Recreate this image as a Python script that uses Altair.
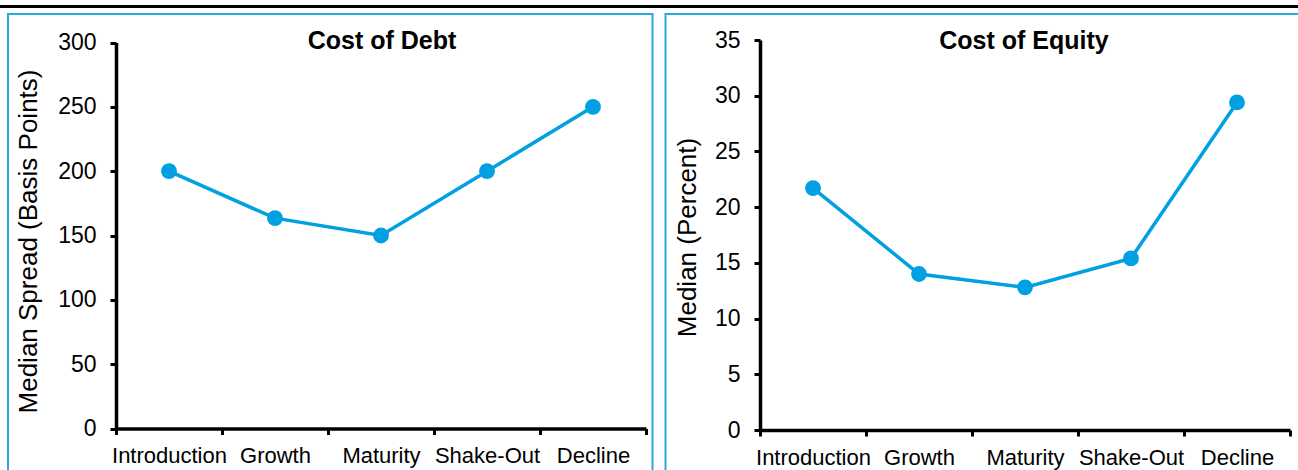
import altair as alt
import pandas as pd

# Life-cycle stages and the two median series
stages = ["Introduction", "Growth", "Maturity", "Shake-Out", "Decline"]
debt_spread_bp = [200, 163.5, 150, 200, 250]
equity_cost_pct = [21.7, 14.0, 12.8, 15.4, 29.4]

debt_ticks = [0, 50, 100, 150, 200, 250, 300]
equity_ticks = [0, 5, 10, 15, 20, 25, 30, 35]

FONT = "Liberation Sans"
BLUE = "#00a0e2"
FRAME = "#29a8e0"
W, H = 1298, 470

debt_df = pd.DataFrame({"stage": stages, "value": debt_spread_bp})
equity_df = pd.DataFrame({"stage": stages, "value": equity_cost_pct})
one = pd.DataFrame({"k": [0]})


def panel(df, x_range, y_range, y_domain, y_ticks, y_title, title_x, title_y, y_offset, x_offset):
    x = alt.X(
        "stage:N",
        sort=stages,
        scale=alt.Scale(range=x_range, paddingInner=0, paddingOuter=0),
        axis=alt.Axis(
            orient="bottom",
            offset=x_offset,
            title=None,
            labelAngle=0,
            labelFont=FONT,
            labelFontSize=22,
            labelColor="black",
            labelPadding=11,
            labelOverlap=False,
            tickBand="extent",
            tickColor="black",
            tickWidth=3,
            tickSize=6,
            domainColor="black",
            domainWidth=3.5,
            grid=False,
        ),
    )
    y = alt.Y(
        "value:Q",
        scale=alt.Scale(domain=y_domain, range=y_range, nice=False, zero=True),
        axis=alt.Axis(
            orient="left",
            offset=y_offset,
            values=y_ticks,
            title=y_title,
            titleFont=FONT,
            titleFontSize=26,
            titleFontWeight="normal",
            titleColor="black",
            titleAngle=270,
            titleAlign="center",
            titleBaseline="bottom",
            titleX=title_x,
            titleY=title_y,
            labelFont=FONT,
            labelFontSize=23,
            labelColor="black",
            labelPadding=14,
            tickColor="black",
            tickWidth=3,
            tickSize=6,
            domainColor="black",
            domainWidth=3.5,
            grid=False,
        ),
    )
    base = alt.Chart(df)
    line = base.mark_line(color=BLUE, strokeWidth=3.5).encode(x=x, y=y)
    pts = base.mark_circle(color=BLUE, size=250, opacity=1).encode(x=x, y=y)
    return alt.layer(line, pts)


left = panel(
    debt_df, [116, 646], [428.5, 42.5], [0, 300], debt_ticks,
    "Median Spread (Basis Points)", -74.5, 241, -116, 428.5 - H,
)
right = panel(
    equity_df, [760, 1290], [430, 40], [0, 35], equity_ticks,
    "Median (Percent)", -60, 237, -760, 430 - H,
)

top_rule = alt.Chart(one).mark_rule(color="black", strokeWidth=3).encode(
    x=alt.value(0), x2=alt.value(W), y=alt.value(6.5)
)
frame_left = alt.Chart(one).mark_rect(
    fill="white", fillOpacity=0, stroke=FRAME, strokeWidth=2
).encode(x=alt.value(8), x2=alt.value(652.5), y=alt.value(14), y2=alt.value(H + 20))
frame_right = alt.Chart(one).mark_rect(
    fill="white", fillOpacity=0, stroke=FRAME, strokeWidth=2
).encode(x=alt.value(665.5), x2=alt.value(W + 20), y=alt.value(14), y2=alt.value(H + 20))

title_left = alt.Chart(one).mark_text(
    font=FONT, fontSize=25, fontWeight="bold", color="black", align="center", baseline="alphabetic"
).encode(x=alt.value(382), y=alt.value(49), text=alt.value("Cost of Debt"))
title_right = alt.Chart(one).mark_text(
    font=FONT, fontSize=25, fontWeight="bold", color="black", align="center", baseline="alphabetic"
).encode(x=alt.value(1024), y=alt.value(49), text=alt.value("Cost of Equity"))

chart = (
    alt.layer(top_rule, frame_left, frame_right, title_left, title_right, left, right)
    .resolve_scale(x="independent", y="independent")
    .resolve_axis(x="independent", y="independent")
    .properties(
        width=W,
        height=H,
        padding=0,
        autosize=alt.AutoSizeParams(type="none"),
        background="white",
    )
    .configure_view(stroke=None)
)

chart.save("out.html", embed_options={"renderer": "svg", "actions": False})
